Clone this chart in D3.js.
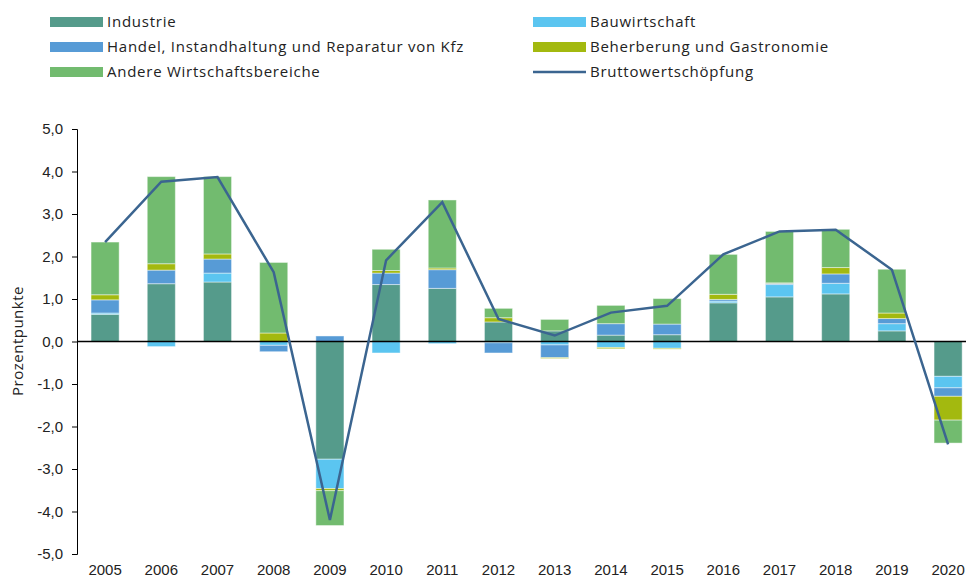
<!DOCTYPE html>
<html>
<head>
<meta charset="utf-8">
<script src="https://cdn.jsdelivr.net/npm/d3@7"></script>
<style>
  body { margin: 0; background: #fff; }
  svg { display: block; font-family: "Open Sans", sans-serif; }
  .axis text { font-size: 15px; fill: #222; }
  .legend text { font-size: 15px; fill: #222; letter-spacing: 0.75px; }
</style>
</head>
<body>
<svg id="chart" width="966" height="581"></svg>
<script>
// Jahre
years = [2005, 2006, 2007, 2008, 2009, 2010, 2011, 2012, 2013, 2014, 2015, 2016, 2017, 2018, 2019, 2020]

// Wachstumsbeitraege in Prozentpunkten (aus dem Bild geschaetzt)
industrie = [0.64, 1.36, 1.40, 0.00, -2.77, 1.34, 1.25, 0.46, 0.25, 0.15, 0.16, 0.91, 1.05, 1.12, 0.25, -0.82]
bau = [0.03, -0.12, 0.21, -0.09, -0.69, -0.27, -0.05, -0.03, -0.08, -0.14, -0.16, 0.04, 0.29, 0.25, 0.17, -0.27]
handel = [0.31, 0.32, 0.33, -0.15, 0.13, 0.27, 0.44, -0.24, -0.30, 0.27, 0.25, 0.04, 0.03, 0.22, 0.12, -0.20]
gastro = [0.12, 0.15, 0.12, 0.20, -0.05, 0.06, 0.04, 0.10, -0.02, -0.03, -0.02, 0.12, 0.01, 0.15, 0.13, -0.56]
andere = [1.24, 2.05, 1.82, 1.66, -0.82, 0.50, 1.60, 0.22, 0.27, 0.43, 0.60, 0.94, 1.21, 0.90, 1.03, -0.54]
bws = [2.34, 3.76, 3.87, 1.63, -4.20, 1.91, 3.28, 0.53, 0.14, 0.68, 0.84, 2.05, 2.59, 2.63, 1.69, -2.42]

yTicks = [-5, -4, -3, -2, -1, 0, 1, 2, 3, 4, 5]

series = [
    { key: "industrie", name: "Industrie", values: industrie, color: "#559b8b" },
    { key: "bau", name: "Bauwirtschaft", values: bau, color: "#5bc5f0" },
    { key: "handel", name: "Handel, Instandhaltung und Reparatur von Kfz", values: handel, color: "#579bd6" },
    { key: "gastro", name: "Beherberung und Gastronomie", values: gastro, color: "#a3b90f" },
    { key: "andere", name: "Andere Wirtschaftsbereiche", values: andere, color: "#72bb6f" }
]
lineColor = "#3b6590"

// Tabelle fuer d3.stack
table = years.map(function(y, i) {
    row = { year: y }
    series.forEach(function(s) { row[s.key] = s.values[i] })
    return row
})

svg = d3.select('#chart')

xscale = d3.scaleBand()
    .domain(years)
    .range([77, 976.2])
    .paddingInner(0.5)
    .paddingOuter(0.25)

yscale = d3.scaleLinear()
    .domain([-5, 5])
    .range([554, 129])

komma = d3.formatLocale({ decimal: ",", thousands: ".", grouping: [3], currency: ["", " €"], minus: "-" }).format(".1f")

// y-Achse
svg.append('g')
    .attr('class', 'axis')
    .attr('transform', 'translate(77,0)')
    .call(d3.axisLeft(yscale).tickValues(yTicks).tickFormat(komma).tickSizeInner(5).tickSizeOuter(5).tickPadding(9))
    .call(g => g.selectAll('path, line').attr('stroke', '#000'))

svg.append('text')
    .attr('transform', 'translate(23,341) rotate(-90)')
    .attr('text-anchor', 'middle')
    .style('font-size', '15px')
    .style('letter-spacing', '0.5px')
    .attr('fill', '#222')
    .text('Prozentpunkte')

// x-Achse (nur Beschriftung)
svg.append('g')
    .attr('class', 'axis')
    .attr('transform', 'translate(0,554)')
    .call(d3.axisBottom(xscale).tickSize(0).tickPadding(10))
    .call(g => g.select('.domain').remove())

// gestapelte Balken
stacked = d3.stack()
    .keys(series.map(s => s.key))
    .offset(d3.stackOffsetDiverging)(table)

svg.append('g')
    .selectAll('g')
    .data(stacked)
    .enter()
    .append('g')
    .attr('fill', (d, i) => series[i].color)
    .selectAll('rect')
    .data(d => d)
    .enter()
    .append('rect')
    .attr('x', d => xscale(d.data.year))
    .attr('width', xscale.bandwidth())
    .attr('y', d => yscale(Math.max(d[0], d[1])))
    .attr('height', d => Math.abs(yscale(d[0]) - yscale(d[1])))
    .attr('stroke', 'rgba(255,255,255,0.45)')
    .attr('stroke-width', 1)

// Nulllinie
svg.append('line')
    .attr('x1', 77).attr('x2', 966)
    .attr('y1', yscale(0)).attr('y2', yscale(0))
    .attr('stroke', '#000')
    .attr('stroke-width', 1.5)

// Bruttowertschoepfung
line = d3.line()
    .x((d, i) => xscale(years[i]) + xscale.bandwidth() / 2)
    .y(d => yscale(d))

svg.append('path')
    .datum(bws)
    .attr('d', line)
    .attr('fill', 'none')
    .attr('stroke', lineColor)
    .attr('stroke-width', 2.5)
    .attr('stroke-linejoin', 'miter')

// Legende
legendItems = series.map(s => ({ name: s.name, color: s.color, type: 'rect' }))
    .concat([{ name: 'Bruttowertschöpfung', color: lineColor, type: 'line' }])
legendPos = [[50, 22], [533, 22], [50, 47], [533, 47], [50, 72], [533, 72]]

legend = svg.append('g').attr('class', 'legend')
    .selectAll('g')
    .data(legendItems)
    .enter()
    .append('g')
    .attr('transform', (d, i) => 'translate(' + legendPos[i][0] + ',' + legendPos[i][1] + ')')

legend.filter(d => d.type == 'rect').append('rect')
    .attr('x', 0).attr('y', -5)
    .attr('width', 53).attr('height', 10)
    .attr('fill', d => d.color)

legend.filter(d => d.type == 'line').append('line')
    .attr('x1', 0).attr('x2', 53)
    .attr('y1', 0).attr('y2', 0)
    .attr('stroke', d => d.color)
    .attr('stroke-width', 2.5)

legend.append('text')
    .attr('x', 57)
    .attr('y', 0)
    .attr('dy', '0.35em')
    .text(d => d.name)
</script>
</body>
</html>
